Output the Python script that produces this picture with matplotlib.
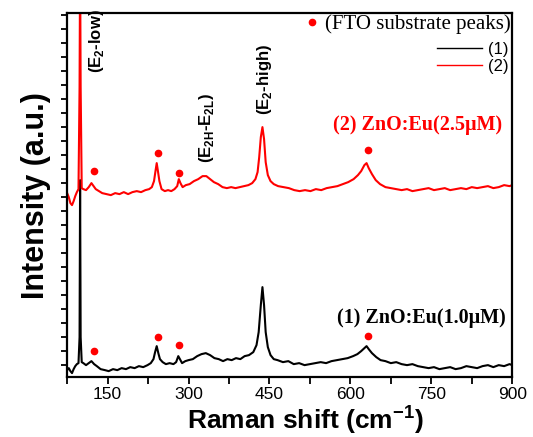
import numpy as np
import matplotlib
matplotlib.use('Agg')
import matplotlib.pyplot as plt
from matplotlib.lines import Line2D
from matplotlib.ticker import MultipleLocator, NullFormatter

plt.rcParams['font.family'] = 'Liberation Sans'
plt.rcParams['mathtext.fontset'] = 'custom'
plt.rcParams['mathtext.rm'] = 'Liberation Sans'
plt.rcParams['mathtext.bf'] = 'Liberation Sans:bold'

# spectrum (1) ZnO:Eu(1.0uM)
shift_1 = [75, 78, 81, 84, 87, 90, 93, 96, 98, 99, 100, 102, 105, 110, 115, 120, 125, 130,
           137, 145, 152, 160, 168, 176, 184, 192, 200, 208, 216, 224, 230, 235, 238, 241,
           244, 247, 252, 258, 265, 272, 277, 281, 284, 288, 294, 300, 308, 316, 324, 332,
           340, 348, 356, 364, 372, 380, 388, 396, 404, 412, 420, 426, 430, 434, 437, 440,
           443, 447, 452, 458, 465, 475, 485, 495, 505, 515, 525, 535, 545, 555, 565, 575,
           585, 595, 605, 613, 620, 626, 630, 634, 640, 648, 656, 665, 675, 685, 695, 705,
           715, 725, 735, 745, 755, 765, 775, 785, 795, 805, 815, 825, 835, 845, 855, 865,
           875, 885, 895, 900]
inten_1 = [7, 9, 6, 4, 8, 11, 13, 14, 40, 197, 40, 15, 14, 12, 14, 16, 13, 11,
           8, 7, 6, 8, 7, 9, 8, 10, 9, 11, 10, 12, 14, 18, 25, 31,
           24, 18, 15, 13, 14, 13, 15, 21, 18, 14, 16, 17, 18, 21, 23, 24,
           22, 19, 18, 16, 18, 17, 19, 18, 21, 22, 25, 32, 45, 72, 90, 72,
           45, 30, 22, 18, 17, 15, 16, 13, 14, 12, 13, 14, 15, 14, 16, 17,
           18, 19, 21, 23, 26, 29, 31, 28, 24, 20, 17, 16, 14, 15, 13, 12,
           13, 11, 10, 9, 10, 8, 9, 10, 8, 9, 11, 10, 9, 11, 12, 10,
           12, 11, 13, 12]

# spectrum (2) ZnO:Eu(2.5uM)
shift_2 = [75, 78, 81, 84, 87, 90, 93, 96, 98, 99, 100, 102, 105, 110, 115, 120, 124, 128,
           134, 140, 148, 156, 164, 172, 180, 188, 196, 204, 212, 220, 227, 232, 236, 239,
           241, 243, 246, 250, 256, 262, 268, 274, 279, 282, 285, 289, 295, 302, 310, 318,
           326, 333, 340, 347, 355, 363, 371, 379, 387, 395, 403, 411, 418, 424, 428, 431,
           434, 437, 440, 443, 447, 452, 458, 466, 476, 486, 496, 506, 516, 526, 536, 546,
           556, 566, 576, 586, 596, 606, 614, 620, 626, 630, 634, 640, 647, 655, 665, 675,
           685, 695, 705, 715, 725, 735, 745, 755, 765, 775, 785, 795, 805, 815, 825, 835,
           845, 855, 865, 875, 885, 895, 900]
inten_2 = [184, 180, 174, 172, 176, 181, 185, 188, 290, 420, 290, 189, 188, 187, 190, 194, 191, 188,
           186, 184, 183, 182, 184, 183, 185, 183, 185, 186, 185, 187, 188, 190, 196, 207,
           214, 207, 196, 188, 186, 187, 186, 188, 191, 198, 194, 190, 192, 193, 196, 198,
           201, 201, 198, 195, 193, 190, 189, 190, 189, 190, 191, 192, 194, 198, 205, 220,
           240, 250, 238, 215, 202, 196, 193, 191, 190, 189, 187, 186, 187, 186, 188, 187,
           189, 190, 191, 193, 195, 198, 202, 206, 212, 214, 209, 203, 197, 193, 190, 189,
           188, 187, 188, 186, 187, 188, 189, 187, 188, 189, 187, 188, 189, 188, 190, 189,
           190, 191, 189, 190, 192, 191, 192]

# FTO substrate peak markers
fto_x = [125, 244, 283, 633]
fto_y1 = [26, 40, 32, 41]
fto_y2 = [206, 224, 204, 227]

fig = plt.figure(figsize=(5.33, 4.37), dpi=100)
ax = fig.add_axes([0.126, 0.137, 0.835, 0.833])

ax.plot(shift_1, inten_1, color='black', lw=1.5)
ax.plot(shift_2, inten_2, color='red', lw=1.5)
ax.plot(fto_x, fto_y1, 'o', color='red', ms=4.5, ls='none')
ax.plot(fto_x, fto_y2, 'o', color='red', ms=4.5, ls='none')

ax.set_xlim(75, 900)
ax.set_ylim(0, 364)
ax.set_xticks([150, 300, 450, 600, 750, 900])
ax.xaxis.set_minor_locator(MultipleLocator(75))
ax.set_yticks(np.arange(12, 364, 14))
ax.yaxis.set_major_formatter(NullFormatter())
ax.tick_params(axis='x', which='both', direction='out', length=5, width=1.3, labelsize=12.5,
               top=False, pad=2)
ax.tick_params(axis='y', which='both', direction='out', length=4, width=1.3, right=False)
for s in ax.spines.values():
    s.set_linewidth(1.6)

ax.set_xlabel(r'Raman shift (cm$^{\mathbf{-1}}$)', fontsize=19, fontweight='bold', labelpad=0)
ax.xaxis.set_label_coords(0.535, -0.072)
ax.set_ylabel('Intensity (a.u.)', fontsize=22, fontweight='bold', labelpad=4)

# mode labels
ax.text(129, 304, r'(E$_\mathbf{2}$-low)', rotation=90, ha='center', va='bottom',
        fontsize=12, fontweight='bold')
ax.text(333, 214, r'(E$_\mathbf{2H}$-E$_\mathbf{2L}$)', rotation=90, ha='center', va='bottom',
        fontsize=12, fontweight='bold')
ax.text(440, 262, r'(E$_\mathbf{2}$-high)', rotation=90, ha='center', va='bottom',
        fontsize=12, fontweight='bold')

ax.text(881, 252, '(2) ZnO:Eu(2.5μM)', color='red', ha='right', va='center',
        fontsize=14.5, fontweight='bold', family='Liberation Serif')
ax.text(888, 59, '(1) ZnO:Eu(1.0μM)', color='black', ha='right', va='center',
        fontsize=14.5, fontweight='bold', family='Liberation Serif')

# legends
fto_handle = Line2D([], [], marker='o', color='red', ls='none', ms=4.5)
leg1 = ax.legend([fto_handle], ['(FTO substrate peaks)'], loc='upper right', frameon=False,
                 prop={'family': 'Liberation Serif', 'size': 15}, handlelength=0.5,
                 handletextpad=0.4, borderaxespad=0.0, borderpad=0.05)
ax.add_artist(leg1)
line_handles = [Line2D([], [], color='black', lw=1), Line2D([], [], color='red', lw=1)]
ax.legend(line_handles, ['(1)', '(2)'], loc='upper right', bbox_to_anchor=(1.0, 0.93),
          frameon=False, fontsize=12, handlelength=2.7, handletextpad=0.4,
          borderaxespad=0.1, borderpad=0.1, labelspacing=0.1)

fig.savefig('out.png', dpi=100)
